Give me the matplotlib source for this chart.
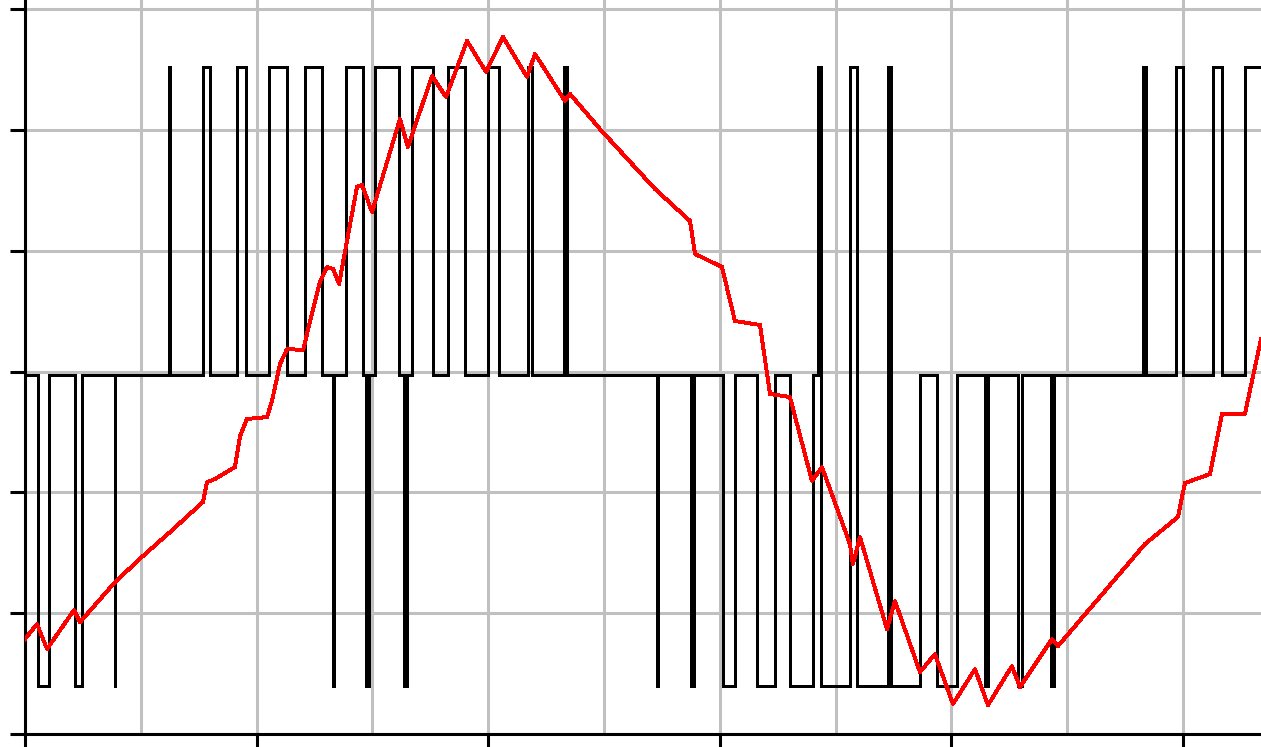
import numpy as np
import matplotlib
matplotlib.use("Agg")
import matplotlib.pyplot as plt

# Inverter output: switching instants (ms) and the state entered at each one
switch_t = [0.000, 0.112, 0.207, 0.432, 0.492, 0.777, 0.781, 1.244, 1.249,
            1.537, 1.598, 1.831, 1.908, 2.107, 2.263, 2.418, 2.565, 2.660,
            2.665, 2.772, 2.919, 2.945, 2.971, 3.022, 3.230, 3.273, 3.299,
            3.342, 3.523, 3.653, 3.800, 3.998, 4.093, 4.344, 4.378, 4.655,
            4.680, 5.458, 5.463, 5.751, 5.777, 6.028, 6.131, 6.321, 6.477,
            6.606, 6.805, 6.848, 6.874, 7.124, 7.184, 7.453, 7.479,
            7.729, 7.876, 8.048, 8.290, 8.316, 8.575, 8.610, 8.860, 8.886,
            9.655, 9.680, 9.940, 10.000, 10.259, 10.337, 10.535]
switch_state = [0, -1, 0, -1, 0, -1, 0, 1, 0,
                1, 0, 1, 0, 1, 0, 1, 0, -1,
                0, 1, 0, -1, 0, 1, 0, -1, 0,
                1, 0, 1, 0, 1, 0, 1, 0, 1,
                0, -1, 0, -1, 0, -1, 0, -1, 0,
                -1, 0, 1, -1, 1, -1, 1, -1,
                0, -1, 0, -1, 0, -1, 0, -1, 0,
                1, 0, 1, 0, 1, 0, 1]
# output voltage for the states -1, 0, +1
level_low, level_zero, level_high = -2.60, -0.03, 2.52

# Phase current samples
current_t = [0.000, 0.104, 0.190, 0.423, 0.475, 0.777, 1.019, 1.252, 1.537,
             1.572, 1.641, 1.813, 1.857, 1.917, 2.090, 2.133, 2.202, 2.263,
             2.401, 2.547, 2.608, 2.660, 2.712, 2.867, 2.910, 2.997, 3.238,
             3.307, 3.515, 3.636, 3.817, 3.981, 4.128, 4.335, 4.404, 4.663,
             4.706, 4.965, 5.440, 5.743, 5.786, 6.019, 6.131, 6.347, 6.434,
             6.606, 6.796, 6.883, 7.124, 7.150, 7.211, 7.444, 7.513, 7.729,
             7.858, 8.014, 8.204, 8.316, 8.523, 8.592, 8.869, 8.921, 9.672,
             9.957, 10.017, 10.233, 10.337, 10.535, 10.674]
current_i = [-2.214, -2.090, -2.297, -1.974, -2.074, -1.743, -1.527, -1.329,
             -1.080, -0.915, -0.890, -0.791, -0.534, -0.393, -0.377, -0.244,
             0.062, 0.186, 0.178, 0.741, 0.865, 0.849, 0.724, 1.527, 1.544,
             1.320, 2.090, 1.858, 2.446, 2.272, 2.736, 2.479, 2.769, 2.438,
             2.628, 2.239, 2.297, 2.007, 1.511, 1.246, 0.973, 0.865, 0.418,
             0.385, -0.186, -0.211, -0.906, -0.791, -1.428, -1.594, -1.370,
             -2.132, -1.900, -2.488, -2.339, -2.752, -2.463, -2.761, -2.438,
             -2.612, -2.214, -2.272, -1.428, -1.204, -0.923, -0.849, -0.352,
             -0.352, 0.269]

t_end = 10.674

W, H = 1261, 747
fig = plt.figure(figsize=(W / 100, H / 100), dpi=100)
# plot area: left spine at x=25 px, bottom spine at y=734 px, open to the right/top
ax = fig.add_axes([25 / W, 13 / H, 1 - 25 / W, 734 / H])

levels = {-1: level_low, 0: level_zero, 1: level_high}
vt = np.array(switch_t + [t_end])
vv = np.array([levels[s] for s in switch_state] + [levels[switch_state[-1]]])
ax.step(vt, vv, where="post", color="black", lw=2.16, antialiased=False,
        zorder=3)
ax.plot(current_t, current_i, color="#ff0000", lw=2.1, antialiased=False,
        zorder=4)

ax.set_xlim(0, t_end)
ax.set_ylim(-3, 3 + 9 / 120.8)
ax.set_xticks(np.arange(0, 11, 2))
ax.set_xticks(np.arange(0, 11, 1), minor=True)
ax.set_yticks(np.arange(-3, 4, 1))
ax.grid(True, which="both", color="#c0c0c0", lw=2.2, zorder=0)
ax.set_axisbelow(True)
ax.tick_params(axis="x", which="major", length=9.5, width=2.2, color="black",
               labelbottom=False)
ax.tick_params(axis="x", which="minor", length=0, labelbottom=False)
ax.tick_params(axis="y", length=11, width=2.2, color="black", labelleft=False)

for side in ("top", "right"):
    ax.spines[side].set_visible(False)
for side in ("left", "bottom"):
    ax.spines[side].set_linewidth(2.2)

fig.savefig("out.png", dpi=100)
